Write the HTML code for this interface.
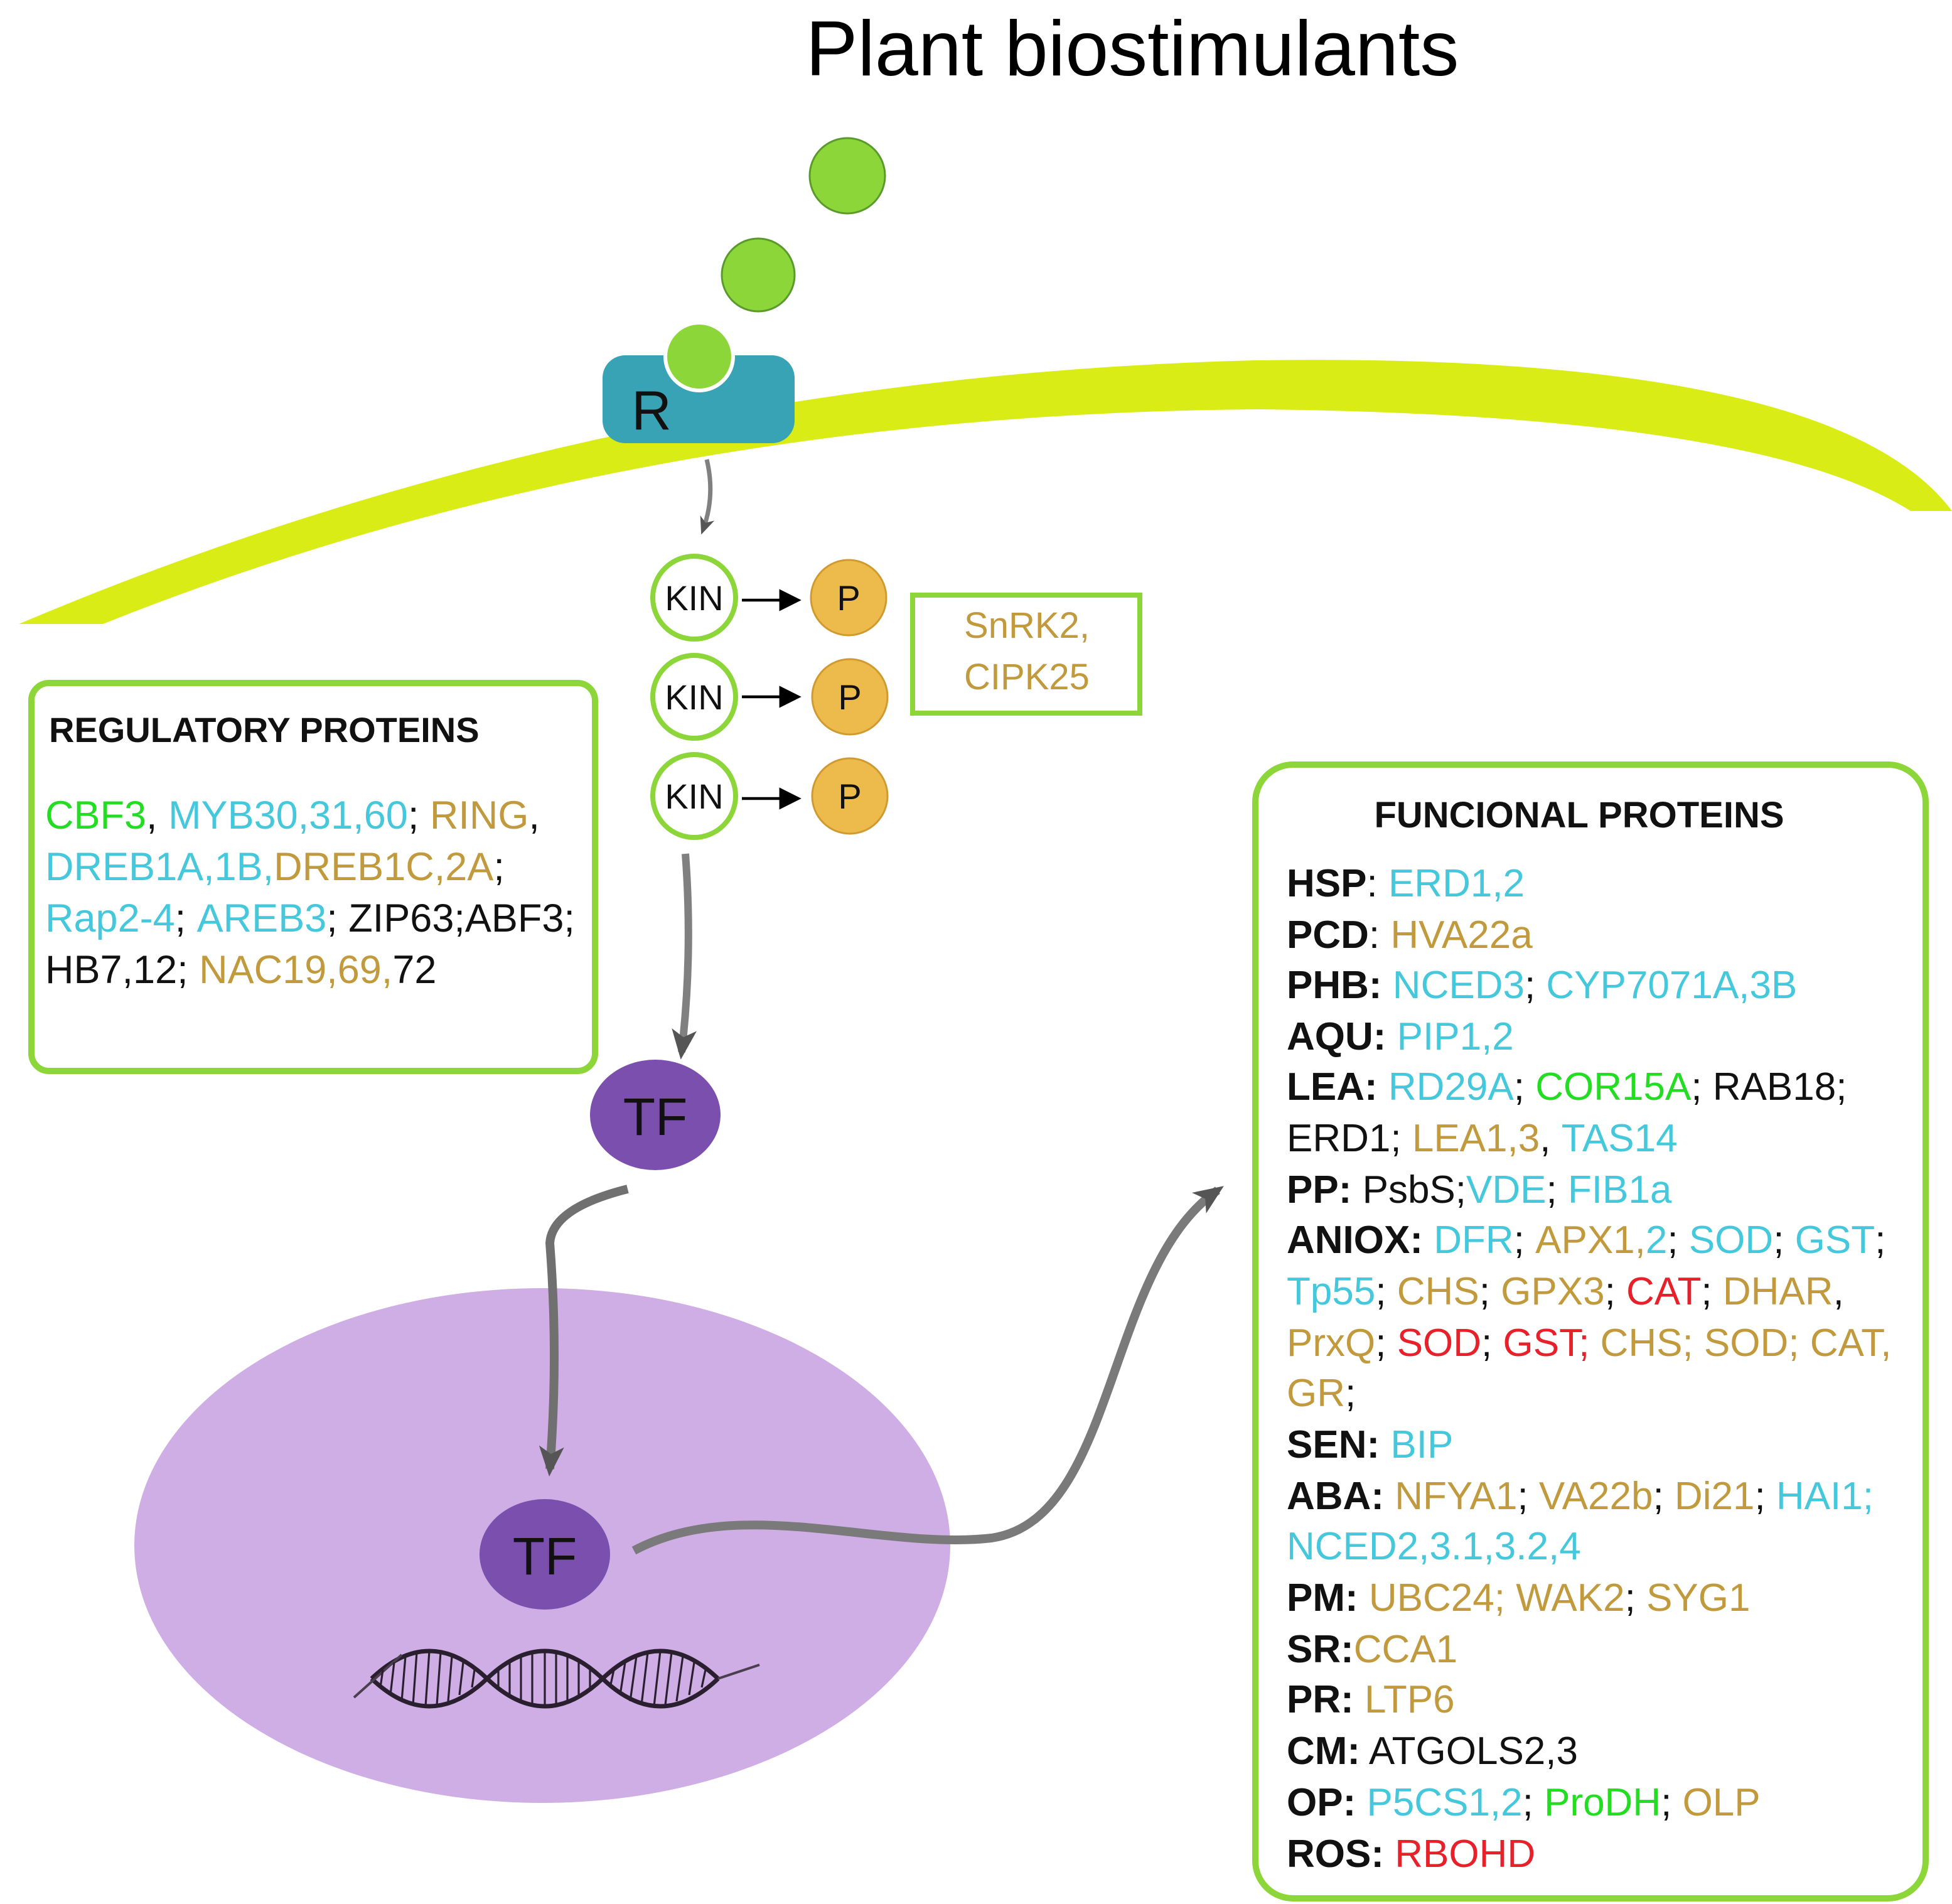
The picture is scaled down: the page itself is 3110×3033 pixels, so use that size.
<!DOCTYPE html>
<html><head><style>html,body{margin:0;padding:0;background:#fff}svg{display:block}</style></head><body>
<svg width="3110" height="3033" viewBox="0 0 1555 1516.5" xmlns="http://www.w3.org/2000/svg" font-family="Liberation Sans, sans-serif">
<defs>
<marker id="ah" markerWidth="30" markerHeight="30" refX="18" refY="12" orient="auto" markerUnits="userSpaceOnUse"><path d="M0,2 L24,12 L0,22 L6,12 Z" fill="#555"/></marker>
<marker id="as" markerWidth="16" markerHeight="16" refX="10" refY="7" orient="auto" markerUnits="userSpaceOnUse"><path d="M0,1 L14,7 L0,13 L4,7 Z" fill="#555"/></marker>
<marker id="ak" markerWidth="8" markerHeight="8" refX="6" refY="4" orient="auto" markerUnits="strokeWidth"><path d="M0,0 L8,4 L0,8 Z" fill="#000"/></marker>
</defs>
<text x="902" y="60" font-size="62" text-anchor="middle" fill="#000">Plant biostimulants</text>
<path d="M15,497 Q 480,300 1000,287 Q 1460,280 1555,407 L1522,407 Q 1400,330 1000,326 Q 500,330 82,497 Z" fill="#d9ec16"/>
<rect x="480" y="283" width="153" height="70" rx="18" fill="#38a3b4"/>
<text x="519" y="342" font-size="44" text-anchor="middle" fill="#111">R</text>
<circle cx="675" cy="140" r="30" fill="#8cd63a" stroke="#5a9a2a" stroke-width="1.5"/>
<circle cx="604" cy="219" r="29" fill="#8cd63a" stroke="#5a9a2a" stroke-width="1.5"/>
<circle cx="557" cy="284" r="27" fill="#8cd63a" stroke="#fff" stroke-width="3"/>
<path d="M563,366 Q570,395 560,422" fill="none" stroke="#808080" stroke-width="3.5" marker-end="url(#as)"/>
<g stroke="#8cd63a" stroke-width="4" fill="#fff">
<circle cx="553" cy="476" r="33"/><circle cx="553" cy="555" r="33"/><circle cx="553" cy="634" r="33"/></g>
<g font-size="28" text-anchor="middle" fill="#111"><text x="553" y="486">KIN</text><text x="553" y="565">KIN</text><text x="553" y="644">KIN</text></g>
<g fill="#ecbb4c" stroke="#d19a30" stroke-width="1.5"><circle cx="676" cy="476" r="30"/><circle cx="677" cy="555" r="30"/><circle cx="677" cy="634" r="30"/></g>
<g font-size="28" text-anchor="middle" fill="#111"><text x="676" y="486">P</text><text x="677" y="565">P</text><text x="677" y="644">P</text></g>
<g stroke="#000" stroke-width="2.2" marker-end="url(#ak)"><line x1="591" y1="478" x2="634" y2="478"/><line x1="591" y1="555" x2="634" y2="555"/><line x1="591" y1="636" x2="634" y2="636"/></g>
<rect x="727" y="474" width="181" height="94" fill="#fff" stroke="#8cd63a" stroke-width="4"/>
<text x="818" y="508" font-size="29" text-anchor="middle" fill="#c29a3e">SnRK2,</text>
<text x="818" y="549" font-size="29" text-anchor="middle" fill="#c29a3e">CIPK25</text>
<rect x="25" y="544" width="449" height="309" rx="14" fill="#fff" stroke="#8cd63a" stroke-width="5"/>
<text x="39" y="591" font-size="28" font-weight="bold" fill="#111">REGULATORY PROTEINS</text>
<g font-size="31.5" fill="#111">
<text x="36" y="660"><tspan fill="#22dd22">CBF3</tspan>, <tspan fill="#45c8dc">MYB30,31,60</tspan>; <tspan fill="#c29a3e">RING</tspan>,</text>
<text x="36" y="701"><tspan fill="#45c8dc">DREB1A,1B,</tspan><tspan fill="#c29a3e">DREB1C,2A</tspan>;</text>
<text x="36" y="742"><tspan fill="#45c8dc">Rap2-4</tspan>; <tspan fill="#45c8dc">AREB3</tspan>; ZIP63;ABF3;</text>
<text x="36" y="783">HB7,12; <tspan fill="#c29a3e">NAC19,69,</tspan>72</text>
</g>
<path d="M546,680 Q552,760 543,838" fill="none" stroke="#808080" stroke-width="6" marker-end="url(#ah)"/>
<ellipse cx="522" cy="888" rx="52" ry="44" fill="#7b4fae"/>
<text x="522" y="904" font-size="42" text-anchor="middle" fill="#111">TF</text>
<ellipse cx="432" cy="1231" rx="325" ry="205" fill="#cfaee6"/>
<path d="M500,947 Q440,962 438,990 Q445,1080 438,1170" fill="none" stroke="#707070" stroke-width="7" marker-end="url(#ah)"/>
<ellipse cx="434" cy="1238" rx="52" ry="44" fill="#7b4fae"/>
<text x="434" y="1254" font-size="42" text-anchor="middle" fill="#111">TF</text>
<path d="M505,1235 C590,1190 700,1235 790,1225 C890,1210 880,1010 970,948" fill="none" stroke="#7a7a7a" stroke-width="7" marker-end="url(#ah)"/>
<g fill="none" stroke="#2a1f2e" stroke-width="3.5">
<path d="M296,1337 Q342,1293 388,1337 Q434,1381 480,1337 Q526,1293 572,1337"/>
<path d="M296,1337 Q342,1381 388,1337 Q434,1293 480,1337 Q526,1381 572,1337"/>
</g>
<g fill="none" stroke="#4a3f4e" stroke-width="2"><path d="M282,1352 L320,1318"/><path d="M572,1337 L605,1326"/></g>
<g stroke="#2a1f2e" stroke-width="1.6">
<line x1="305" y1="1330" x2="303" y2="1344"/><line x1="314" y1="1324" x2="311" y2="1350"/><line x1="323" y1="1319" x2="320" y2="1355"/><line x1="332" y1="1316" x2="329" y2="1358"/><line x1="342" y1="1315" x2="339" y2="1359"/><line x1="351" y1="1316" x2="348" y2="1358"/><line x1="360" y1="1319" x2="357" y2="1355"/><line x1="369" y1="1324" x2="366" y2="1350"/><line x1="378" y1="1330" x2="376" y2="1344"/>
<line x1="397" y1="1330" x2="397" y2="1344"/><line x1="406" y1="1324" x2="406" y2="1350"/><line x1="415" y1="1319" x2="415" y2="1355"/><line x1="424" y1="1316" x2="424" y2="1358"/><line x1="434" y1="1315" x2="434" y2="1359"/><line x1="443" y1="1316" x2="443" y2="1358"/><line x1="452" y1="1319" x2="452" y2="1355"/><line x1="461" y1="1324" x2="461" y2="1350"/><line x1="470" y1="1330" x2="470" y2="1344"/>
<line x1="489" y1="1330" x2="486" y2="1344"/><line x1="498" y1="1324" x2="494" y2="1350"/><line x1="507" y1="1319" x2="502" y2="1355"/><line x1="516" y1="1316" x2="511" y2="1358"/><line x1="526" y1="1315" x2="521" y2="1359"/><line x1="535" y1="1316" x2="530" y2="1358"/><line x1="544" y1="1319" x2="539" y2="1355"/><line x1="553" y1="1324" x2="549" y2="1350"/><line x1="562" y1="1330" x2="559" y2="1344"/>
</g>
<rect x="1000" y="609" width="534" height="903" rx="30" fill="#fff" stroke="#8cd63a" stroke-width="5"/>
<text x="1258" y="659" font-size="29" font-weight="bold" text-anchor="middle" fill="#111">FUNCIONAL PROTEINS</text>
<g font-size="31" fill="#111">
<text x="1025" y="714"><tspan font-weight="bold">HSP</tspan>: <tspan fill="#45c8dc">ERD1,2</tspan></text>
<text x="1025" y="755"><tspan font-weight="bold">PCD</tspan>: <tspan fill="#c29a3e">HVA22a</tspan></text>
<text x="1025" y="795"><tspan font-weight="bold">PHB:</tspan> <tspan fill="#45c8dc">NCED3</tspan>; <tspan fill="#45c8dc">CYP7071A,3B</tspan></text>
<text x="1025" y="836"><tspan font-weight="bold">AQU:</tspan> <tspan fill="#45c8dc">PIP1,2</tspan></text>
<text x="1025" y="876"><tspan font-weight="bold">LEA:</tspan> <tspan fill="#45c8dc">RD29A</tspan>; <tspan fill="#22dd22">COR15A</tspan>; RAB18;</text>
<text x="1025" y="917">ERD1; <tspan fill="#c29a3e">LEA1,3</tspan>, <tspan fill="#45c8dc">TAS14</tspan></text>
<text x="1025" y="958"><tspan font-weight="bold">PP:</tspan> PsbS;<tspan fill="#45c8dc">VDE</tspan>; <tspan fill="#45c8dc">FIB1a</tspan></text>
<text x="1025" y="998"><tspan font-weight="bold">ANIOX:</tspan> <tspan fill="#45c8dc">DFR</tspan>; <tspan fill="#c29a3e">APX1,</tspan><tspan fill="#45c8dc">2</tspan>; <tspan fill="#45c8dc">SOD</tspan>; <tspan fill="#45c8dc">GST</tspan>;</text>
<text x="1025" y="1039"><tspan fill="#45c8dc">Tp55</tspan>; <tspan fill="#c29a3e">CHS</tspan>; <tspan fill="#c29a3e">GPX3</tspan>; <tspan fill="#e8202a">CAT</tspan>; <tspan fill="#c29a3e">DHAR</tspan>,</text>
<text x="1025" y="1080"><tspan fill="#c29a3e">PrxQ</tspan>; <tspan fill="#e8202a">SOD</tspan>; <tspan fill="#e8202a">GST;</tspan> <tspan fill="#c29a3e">CHS; SOD; CAT,</tspan></text>
<text x="1025" y="1120"><tspan fill="#c29a3e">GR</tspan>;</text>
<text x="1025" y="1161"><tspan font-weight="bold">SEN:</tspan> <tspan fill="#45c8dc">BIP</tspan></text>
<text x="1025" y="1202"><tspan font-weight="bold">ABA:</tspan> <tspan fill="#c29a3e">NFYA1</tspan>; <tspan fill="#c29a3e">VA22b</tspan>; <tspan fill="#c29a3e">Di21</tspan>; <tspan fill="#45c8dc">HAI1;</tspan></text>
<text x="1025" y="1242"><tspan fill="#45c8dc">NCED2,3.1,3.2,4</tspan></text>
<text x="1025" y="1283"><tspan font-weight="bold">PM:</tspan> <tspan fill="#c29a3e">UBC24; WAK2</tspan>; <tspan fill="#c29a3e">SYG1</tspan></text>
<text x="1025" y="1324"><tspan font-weight="bold">SR:</tspan><tspan fill="#c29a3e">CCA1</tspan></text>
<text x="1025" y="1364"><tspan font-weight="bold">PR:</tspan> <tspan fill="#c29a3e">LTP6</tspan></text>
<text x="1025" y="1405"><tspan font-weight="bold">CM:</tspan> ATGOLS2,3</text>
<text x="1025" y="1446"><tspan font-weight="bold">OP:</tspan> <tspan fill="#45c8dc">P5CS1,2</tspan>; <tspan fill="#22dd22">ProDH</tspan>; <tspan fill="#c29a3e">OLP</tspan></text>
<text x="1025" y="1487"><tspan font-weight="bold">ROS:</tspan> <tspan fill="#e8202a">RBOHD</tspan></text>
</g>
</svg>
</body></html>
